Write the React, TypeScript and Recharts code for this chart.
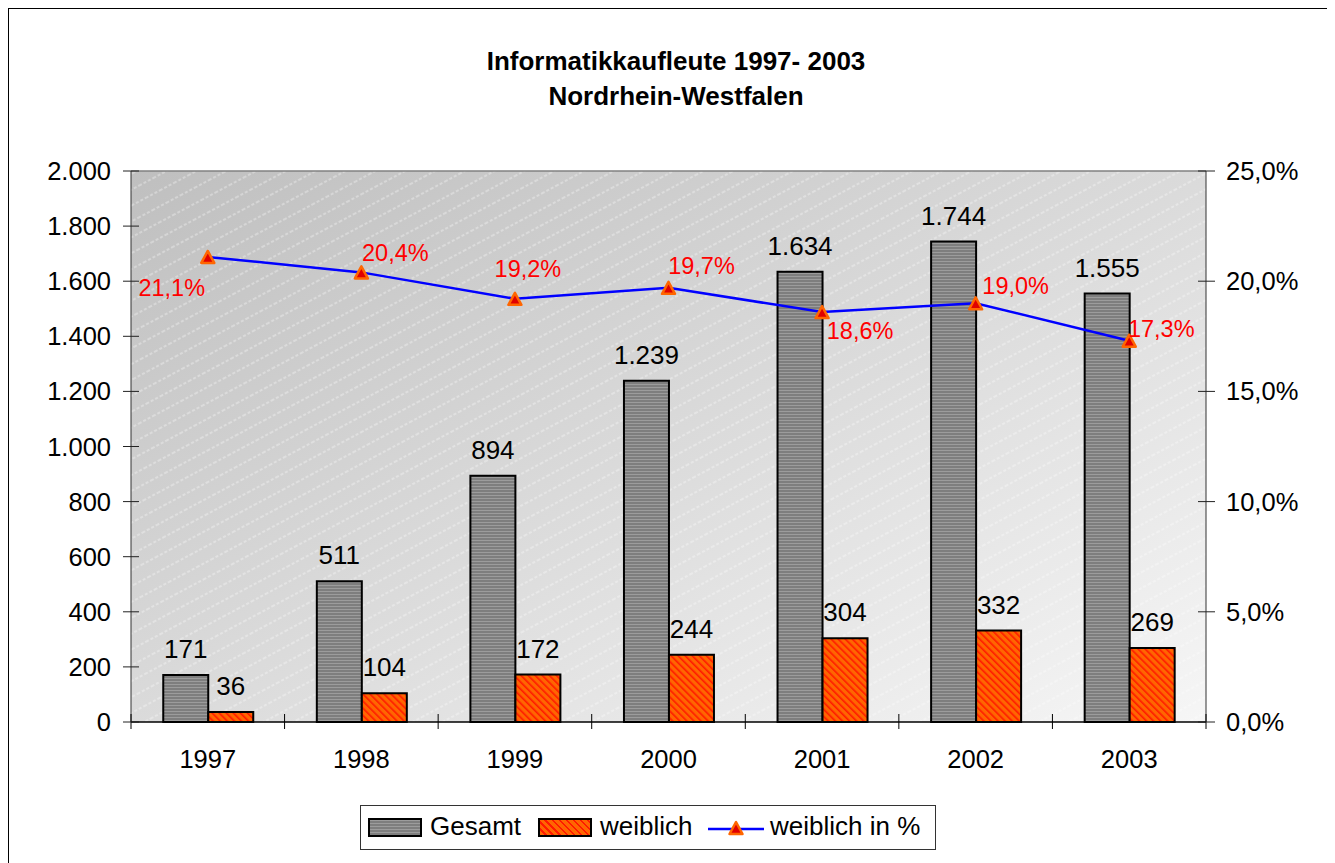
import {
  ComposedChart,
  Bar,
  Line,
  XAxis,
  YAxis,
  CartesianGrid,
  ReferenceLine,
  LabelList,
} from "recharts";

const years = ["1997", "1998", "1999", "2000", "2001", "2002", "2003"];
const gesamt = [171, 511, 894, 1239, 1634, 1744, 1555];
const weiblich = [36, 104, 172, 244, 304, 332, 269];
const weiblichPct = [21.1, 20.4, 19.2, 19.7, 18.6, 19.0, 17.3];
const leftTicks = [0, 200, 400, 600, 800, 1000, 1200, 1400, 1600, 1800, 2000];
const rightTicks = [0, 5, 10, 15, 20, 25];

// where each percent label sits relative to its marker
const pctLabelShift = [
  [-36, 31],
  [34, -20],
  [13, -30],
  [33, -22],
  [38, 19],
  [40, -18],
  [32, -12],
];

const data = years.map((year, i) => ({
  year,
  gesamt: gesamt[i],
  weiblich: weiblich[i],
  pct: weiblichPct[i],
}));

const W = 1326;
const H = 854;
const PLOT = { left: 122, right: 1197, top: 162, bottom: 713 };
const band = (PLOT.right - PLOT.left) / years.length;
const FONT = "'Liberation Sans', Arial, sans-serif";

const fmtThousands = (v: number) =>
  String(v).replace(/\B(?=(\d{3})+(?!\d))/g, ".");
const fmtPct = (v: number) => `${v.toFixed(1).replace(".", ",")}%`;

function XTick(props: any) {
  const { x, payload, index } = props;
  return (
    <g>
      <line x1={x + band / 2} x2={x + band / 2} y1={PLOT.bottom - 8} y2={PLOT.bottom + 7} stroke="#000" />
      {index === 0 && (
        <line x1={x - band / 2} x2={x - band / 2} y1={PLOT.bottom - 8} y2={PLOT.bottom + 7} stroke="#000" />
      )}
      <text x={x} y={PLOT.bottom + 28} dy="0.71em" textAnchor="middle" fontSize={25.5} fill="#000">
        {payload.value}
      </text>
    </g>
  );
}

function LeftTick(props: any) {
  const { y, payload } = props;
  return (
    <g>
      <line x1={PLOT.left - 8} x2={PLOT.left + 8} y1={y} y2={y} stroke="#222" />
      <text x={PLOT.left - 20} y={y} dy="0.355em" textAnchor="end" fontSize={25.5} fill="#000">
        {fmtThousands(payload.value)}
      </text>
    </g>
  );
}

function RightTick(props: any) {
  const { y, payload } = props;
  return (
    <g>
      <line x1={PLOT.right - 8} x2={PLOT.right + 9} y1={y} y2={y} stroke="#222" />
      <text x={PLOT.right + 20} y={y} dy="0.355em" textAnchor="start" fontSize={25.5} fill="#000">
        {fmtPct(payload.value)}
      </text>
    </g>
  );
}

function TriangleDot(props: any) {
  const { cx, cy, index } = props;
  if (cx == null || cy == null) return <g key={index} />;
  return (
    <polygon
      key={index}
      points={`${cx},${cy - 6} ${cx - 6.5},${cy + 6} ${cx + 6.5},${cy + 6}`}
      fill="#e00000"
      stroke="#ff6600"
      strokeWidth={2.5}
      strokeLinejoin="round"
    />
  );
}

function PctLabel(props: any) {
  const { x, y, value, index } = props;
  const [dx, dy] = pctLabelShift[index] || [0, -20];
  return (
    <text x={x + dx} y={y + dy} dy="0.355em" textAnchor="middle" fontSize={23.5} fill="#ff0000">
      {fmtPct(value)}
    </text>
  );
}

function LegendTriangle() {
  return (
    <svg width={56} height={20} style={{ position: "absolute", left: 347, top: 12 }}>
      <line x1={0} x2={56} y1={11} y2={11} stroke="#0000ff" strokeWidth={2.5} />
      <polygon points="28,4 21.5,16 34.5,16" fill="#e00000" stroke="#ff6600" strokeWidth={2.5} strokeLinejoin="round" />
    </svg>
  );
}

export default function App() {
  return (
    <div
      style={{
        position: "relative",
        width: W,
        height: H,
        border: "1px solid #000",
        fontFamily: FONT,
        background: "#fff",
      }}
    >
      <div
        style={{
          position: "absolute",
          left: 0,
          top: 35,
          width: 1334,
          textAlign: "center",
          fontWeight: "bold",
          fontSize: 26,
          lineHeight: "35px",
        }}
      >
        <div>Informatikkaufleute 1997- 2003</div>
        <div>Nordrhein-Westfalen</div>
      </div>

      <ComposedChart
        width={W}
        height={H}
        data={data}
        margin={{ top: PLOT.top, right: 0, bottom: H - PLOT.bottom - 40, left: 0 }}
        barCategoryGap="21%"
        barGap={0}
      >
        <defs>
          <linearGradient id="bgGrad" x1="0" y1="0" x2="1" y2="1">
            <stop offset="0%" stopColor="#bfbfbf" />
            <stop offset="100%" stopColor="#f6f6f6" />
          </linearGradient>
          <pattern id="bgLines" width="16" height="14" patternUnits="userSpaceOnUse" patternTransform="rotate(-28)">
            <line x1="0" x2="16" y1="7" y2="7" stroke="#ffffff" strokeWidth={1} strokeDasharray="3 2" strokeOpacity={0.6} />
          </pattern>
          <pattern id="grayStripes" width="8" height="3" patternUnits="userSpaceOnUse">
            <rect width="8" height="3" fill="#7e7e7e" />
            <rect y="0" width="8" height="1" fill="#9c9c9c" />
          </pattern>
          <pattern id="orangeHatch" width="5" height="5" patternUnits="userSpaceOnUse" patternTransform="rotate(-45)">
            <rect width="5" height="5" fill="#ff6600" />
            <rect width="1.6" height="5" fill="#ff1a00" />
          </pattern>
        </defs>
        <CartesianGrid yAxisId="left" horizontal={false} vertical={false} fill="url(#bgGrad)" stroke="none" />
        <CartesianGrid yAxisId="left" horizontal={false} vertical={false} fill="url(#bgLines)" stroke="none" />
        <XAxis
          dataKey="year"
          height={40}
          interval={0}
          tick={XTick}
          tickLine={false}
          axisLine={{ stroke: "#000", strokeWidth: 1.5 }}
        />
        <YAxis
          yAxisId="left"
          width={PLOT.left}
          domain={[0, 2000]}
          ticks={leftTicks}
          interval={0}
          tick={LeftTick}
          tickLine={false}
          axisLine={{ stroke: "#333" }}
        />
        <YAxis
          yAxisId="right"
          orientation="right"
          width={W - PLOT.right}
          domain={[0, 25]}
          ticks={rightTicks}
          interval={0}
          tick={RightTick}
          tickLine={false}
          axisLine={{ stroke: "#333" }}
        />
        <ReferenceLine yAxisId="left" y={2000} stroke="#808080" strokeWidth={1.5} />
        <Bar
          yAxisId="left"
          dataKey="gesamt"
          fill="url(#grayStripes)"
          stroke="#000"
          strokeWidth={2}
          isAnimationActive={false}
        >
          <LabelList dataKey="gesamt" position="top" offset={17} formatter={(v: any) => fmtThousands(v)} fontSize={26} fill="#000" />
        </Bar>
        <Bar
          yAxisId="left"
          dataKey="weiblich"
          fill="url(#orangeHatch)"
          stroke="#000"
          strokeWidth={2}
          isAnimationActive={false}
        >
          <LabelList dataKey="weiblich" position="top" offset={17} formatter={(v: any) => fmtThousands(v)} fontSize={26} fill="#000" />
        </Bar>
        <Line
          yAxisId="right"
          dataKey="pct"
          stroke="#0000ff"
          strokeWidth={2.5}
          dot={(p: any) => <TriangleDot key={p.index} {...p} />}
          activeDot={false}
          isAnimationActive={false}
        >
          <LabelList dataKey="pct" content={PctLabel} />
        </Line>
      </ComposedChart>

      {/* legend */}
      <div
        style={{
          position: "absolute",
          left: 351,
          top: 796,
          width: 574,
          height: 43,
          border: "1px solid #333",
          fontSize: 26,
          background: "#fff",
        }}
      >
        <div
          style={{
            position: "absolute",
            left: 7,
            top: 12,
            width: 50,
            height: 15,
            border: "2px solid #000",
            background: "repeating-linear-gradient(180deg, #9c9c9c 0px, #9c9c9c 1px, #7e7e7e 1px, #7e7e7e 3px)",
          }}
        />
        <span style={{ position: "absolute", left: 69, top: 5, lineHeight: "30px" }}>Gesamt</span>
        <div
          style={{
            position: "absolute",
            left: 177,
            top: 12,
            width: 50,
            height: 15,
            border: "2px solid #000",
            background: "repeating-linear-gradient(45deg, #ff6600 0px, #ff6600 3.4px, #ff1a00 3.4px, #ff1a00 5px)",
          }}
        />
        <span style={{ position: "absolute", left: 239, top: 5, lineHeight: "30px" }}>weiblich</span>
        <LegendTriangle />
        <span style={{ position: "absolute", left: 409, top: 5, lineHeight: "30px" }}>weiblich in %</span>
      </div>
    </div>
  );
}
